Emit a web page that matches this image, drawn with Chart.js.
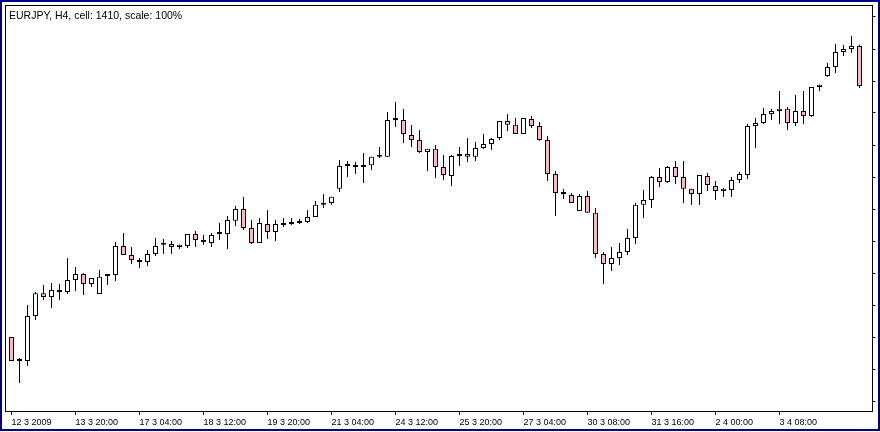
<!DOCTYPE html>
<html>
<head>
<meta charset="utf-8">
<script src="https://cdn.jsdelivr.net/npm/chart.js@4/dist/chart.umd.min.js"></script>
<style>
  html, body { margin: 0; padding: 0; background: #fff; }
  canvas { display: block; }
</style>
</head>
<body>
<canvas id="candles" width="880" height="432"></canvas>
<script>
// EURJPY H4 bars (one entry per bar)
const open = [
  124.00, 123.25, 123.25, 124.66, 125.37, 125.25, 125.47, 125.41, 125.78, 125.97,
  125.66, 125.34, 125.91, 125.94, 126.84, 126.56, 126.41, 126.34, 126.59, 126.88,
  126.91, 126.81, 126.84, 127.22, 127.03, 126.94, 127.22, 127.22, 127.63, 128.00,
  127.41, 126.94, 127.53, 127.28, 127.50, 127.53, 127.56, 127.59, 127.75, 128.13,
  128.19, 128.63, 129.34, 129.34, 129.31, 129.37, 129.63, 129.63, 130.78, 130.78,
  130.31, 130.16, 129.78, 129.88, 129.31, 129.03, 129.66, 129.72, 129.63, 129.91,
  130.03, 130.22, 130.75, 130.63, 130.34, 130.81, 130.59, 130.16, 129.09, 128.47,
  128.44, 127.94, 128.41, 127.88, 126.59, 126.28, 126.47, 126.66, 127.09, 128.13,
  128.28, 129.00, 128.84, 129.31, 129.00, 128.63, 128.47, 129.03, 128.72, 128.56,
  128.59, 128.91, 129.06, 130.59, 130.69, 130.97, 131.06, 131.13, 130.69, 131.06,
  130.91, 131.81, 132.16, 132.44, 132.91, 133.00, 133.09
];
const high = [
  124.00, 123.34, 125.00, 125.41, 125.63, 125.69, 125.66, 126.47, 126.19, 126.00,
  125.84, 126.09, 125.97, 126.97, 127.25, 126.81, 126.47, 126.72, 127.09, 127.06,
  127.00, 126.88, 127.22, 127.31, 127.19, 127.25, 127.56, 127.78, 128.09, 128.38,
  127.66, 127.72, 127.97, 127.66, 127.72, 127.72, 127.69, 127.97, 128.25, 128.47,
  128.38, 129.53, 129.50, 129.47, 129.75, 129.63, 129.94, 131.03, 131.34, 131.13,
  130.63, 130.47, 129.88, 130.00, 129.69, 129.69, 129.94, 130.22, 130.09, 130.34,
  130.22, 130.75, 130.97, 130.84, 130.84, 130.91, 130.72, 130.28, 129.19, 128.63,
  128.50, 128.47, 128.56, 128.03, 126.66, 126.81, 126.94, 127.38, 128.19, 128.59,
  129.03, 129.28, 129.34, 129.50, 129.50, 128.63, 129.06, 129.13, 128.88, 128.66,
  129.00, 129.16, 130.66, 130.84, 131.16, 131.13, 131.69, 131.19, 131.56, 131.69,
  131.81, 131.88, 132.56, 133.16, 133.13, 133.41, 133.13
];
const low = [
  123.25, 122.56, 123.09, 124.53, 125.16, 124.91, 125.16, 125.34, 125.44, 125.31,
  125.56, 125.34, 125.63, 125.75, 126.56, 126.28, 126.16, 126.22, 126.53, 126.59,
  126.59, 126.75, 126.78, 126.81, 126.88, 126.81, 127.03, 126.75, 127.47, 127.34,
  126.91, 126.94, 127.06, 127.00, 127.44, 127.50, 127.53, 127.56, 127.75, 128.03,
  128.13, 128.53, 129.00, 129.09, 128.81, 129.22, 129.59, 129.63, 130.56, 130.06,
  129.94, 129.75, 129.19, 128.97, 128.91, 128.72, 129.34, 129.47, 129.50, 129.88,
  129.84, 130.16, 130.44, 130.34, 130.34, 130.53, 130.13, 128.88, 127.78, 128.31,
  128.19, 127.94, 127.88, 126.47, 125.66, 126.06, 126.25, 126.56, 126.91, 127.72,
  128.03, 128.69, 128.81, 128.78, 128.19, 128.13, 128.13, 128.56, 128.28, 128.38,
  128.38, 128.81, 128.94, 129.91, 130.66, 130.78, 130.66, 130.47, 130.59, 130.66,
  130.88, 131.69, 132.13, 132.25, 132.78, 132.88, 131.78
];
const close = [
  123.25, 123.28, 124.66, 125.37, 125.25, 125.47, 125.41, 125.78, 125.97, 125.66,
  125.84, 125.88, 125.97, 126.84, 126.56, 126.41, 126.34, 126.59, 126.84, 126.91,
  126.81, 126.88, 127.22, 127.03, 126.97, 127.19, 127.22, 127.66, 128.00, 127.41,
  126.94, 127.56, 127.28, 127.53, 127.53, 127.56, 127.56, 127.75, 128.13, 128.19,
  128.38, 129.34, 129.34, 129.31, 129.37, 129.63, 129.63, 130.78, 130.78, 130.34,
  130.16, 129.78, 129.88, 129.31, 129.06, 129.66, 129.72, 129.63, 129.91, 130.03,
  130.19, 130.75, 130.63, 130.34, 130.84, 130.59, 130.16, 129.09, 128.50, 128.47,
  128.19, 128.41, 127.88, 126.59, 126.28, 126.47, 126.66, 127.09, 128.13, 128.28,
  129.00, 128.84, 129.31, 129.00, 128.63, 128.47, 129.06, 128.75, 128.56, 128.63,
  128.91, 129.09, 130.59, 130.69, 130.97, 131.06, 131.13, 130.69, 131.06, 130.91,
  131.81, 131.88, 132.44, 132.91, 133.00, 133.09, 131.84
];

// time axis: one label every 8 bars, starting at the first bar
const tickLabels = [
  '12 3 2009', '13 3 20:00', '17 3 04:00', '18 3 12:00', '19 3 20:00',
  '21 3 04:00', '24 3 12:00', '25 3 20:00', '27 3 04:00', '30 3 08:00',
  '31 3 16:00', '2 4 00:00', '3 4 08:00'
];
const tickStep = 8;
const priceTicks = [122, 123, 124, 125, 126, 127, 128, 129, 130, 131, 132, 133, 134];
const title = 'EURJPY, H4, cell: 1410, scale: 100%';

// one spare slot on the right, like the chart shift
const bars = [];
for (let i = 0; i <= open.length; i++) bars.push(i);

const bull = '#ffffff';
const bear = '#ffb6c1';

const framePlugin = {
  id: 'frame',
  afterDraw(chart) {
    const ctx = chart.ctx;
    const a = chart.chartArea;
    ctx.save();
    // outer window frame
    ctx.strokeStyle = '#000080';
    ctx.lineWidth = 2;
    ctx.strokeRect(1, 1, chart.width - 2, chart.height - 3);
    // plot border
    ctx.strokeStyle = '#000';
    ctx.lineWidth = 1;
    ctx.strokeRect(a.left - 2, a.top - 0.5, a.right - a.left + 3, a.bottom - a.top + 1);
    // caption
    ctx.fillStyle = '#000';
    ctx.font = '10.5px "Liberation Sans", Arial, sans-serif';
    ctx.textBaseline = 'alphabetic';
    ctx.textAlign = 'left';
    ctx.fillText(title, 9, 19);
    ctx.restore();
  }
};

new Chart(document.getElementById('candles'), {
  type: 'bar',
  data: {
    labels: bars,
    datasets: [
      {
        label: 'body',
        data: open.map((o, i) => [o, close[i]]),
        grouped: false,
        order: 0,
        barThickness: 5,
        minBarLength: 2,
        borderWidth: 1,
        borderSkipped: false,
        inflateAmount: 0,
        borderColor: '#000',
        backgroundColor: (c) => {
          const i = c.dataIndex;
          if (i === undefined) return bull;
          return close[i] < open[i] ? bear : bull;
        }
      },
      {
        label: 'wick',
        data: low.map((l, i) => [l, high[i]]),
        grouped: false,
        order: 1,
        barThickness: 1,
        borderWidth: 0,
        inflateAmount: 0,
        backgroundColor: '#000'
      }
    ]
  },
  options: {
    responsive: false,
    animation: false,
    devicePixelRatio: 1,
    layout: {
      padding: { left: 7.5, right: 4.5, top: 6, bottom: 2 }
    },
    plugins: {
      legend: { display: false },
      tooltip: { enabled: false },
      title: { display: false }
    },
    scales: {
      x: {
        type: 'category',
        offset: true,
        border: { display: false },
        grid: {
          display: true,
          offset: false,
          drawOnChartArea: false,
          drawTicks: true,
          tickLength: 4,
          tickColor: '#000'
        },
        ticks: {
          autoSkip: false,
          maxRotation: 0,
          minRotation: 0,
          align: 'start',
          padding: 2.1,
          color: '#000',
          font: { family: '"Liberation Sans", Arial, sans-serif', size: 9 },
          callback: (v) => tickLabels[v / tickStep]
        },
        afterBuildTicks: (axis) => {
          axis.ticks = axis.ticks.filter(t => t.value % tickStep === 0 && t.value / tickStep < tickLabels.length);
        }
      },
      y: {
        position: 'right',
        min: 121.6875,
        max: 134.34375,
        border: { display: false },
        grid: {
          display: true,
          drawOnChartArea: false,
          drawTicks: true,
          tickLength: 4,
          tickColor: '#000'
        },
        ticks: { display: false },
        afterBuildTicks: (axis) => {
          axis.ticks = priceTicks.map(v => ({ value: v }));
        }
      }
    }
  },
  plugins: [framePlugin]
});
</script>
</body>
</html>
